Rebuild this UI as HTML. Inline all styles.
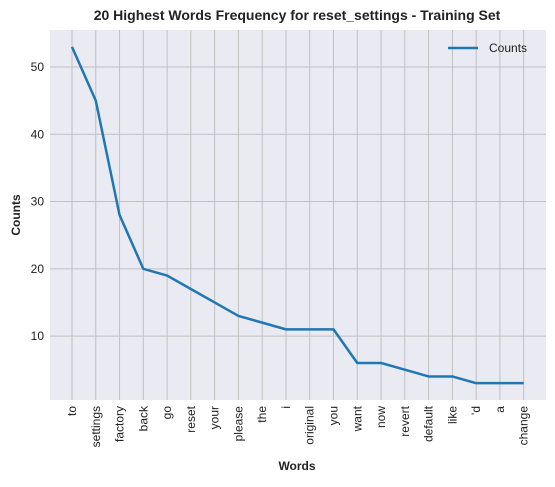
<!DOCTYPE html>
<html><head><meta charset="utf-8"><style>
body{margin:0;background:#fff;font-family:"Liberation Sans",Arial,sans-serif}
</style></head><body>
<svg id="c" width="555" height="482" xmlns="http://www.w3.org/2000/svg">
<text x="297" y="20" text-anchor="middle" font-size="14" font-weight="bold" fill="#222">20 Highest Words Frequency for reset_settings - Training Set</text>
<rect x="50" y="30" width="496" height="370" fill="#eaeaf2"/>
<g id="grid"></g><g id="ticks"></g>
<text x="297" y="470" text-anchor="middle" font-size="12" font-weight="bold" fill="#222">Words</text>
<text transform="translate(20,215) rotate(-90)" text-anchor="middle" font-size="12" font-weight="bold" fill="#222">Counts</text>
<g>
<line x1="448" y1="48" x2="478" y2="48" stroke="#1f77b4" stroke-width="2.5"/>
<text x="489" y="52" font-size="12" fill="#222">Counts</text>
</g>
</svg>
<script>
const words=["to","settings","factory","back","go","reset","your","please","the","i","original","you","want","now","revert","default","like","'d","a","change"];
const counts=[53,45,28,20,19,17,15,13,12,11,11,11,6,6,5,4,4,3,3,3];
const yTicks=[10,20,30,40,50];
const NS="http://www.w3.org/2000/svg";
const svg=document.getElementById('c'),grid=document.getElementById('grid'),tk=document.getElementById('ticks');
const x0=72,x1=523.7,ymin=0.5,ymax=55.5,plotTop=30,plotBot=400;
const xs=i=>x0+(x1-x0)*i/(words.length-1);
const ys=v=>plotBot-(v-ymin)/(ymax-ymin)*(plotBot-plotTop);
function mk(t,a,p){const e=document.createElementNS(NS,t);for(const k in a)e.setAttribute(k,a[k]);(p||svg).appendChild(e);return e;}
yTicks.forEach(v=>{
 const l=mk('line',{x1:50,x2:546,y1:ys(v),y2:ys(v),stroke:'#c0c0c0','stroke-width':1},grid);
 
 
 const t=mk('text',{x:44,y:ys(v)+4,'text-anchor':'end','font-size':12,fill:'#222'},tk);
 t.textContent=v;
 
 
});
words.forEach((w,i)=>{
 const l=mk('line',{x1:xs(i),x2:xs(i),y1:plotTop,y2:plotBot,stroke:'#c0c0c0','stroke-width':1},grid);
 
 
 const t=mk('text',{transform:`translate(${xs(i)+4},406) rotate(-90)`,'text-anchor':'end','font-size':12,fill:'#222'},tk);
 t.textContent=w;
 
 
});
const p=mk('polyline',{points:counts.map((v,i)=>xs(i)+','+ys(v)).join(' '),fill:'none',stroke:'#1f77b4','stroke-width':2.5,'stroke-linejoin':'round'});


</script>
</body></html>
